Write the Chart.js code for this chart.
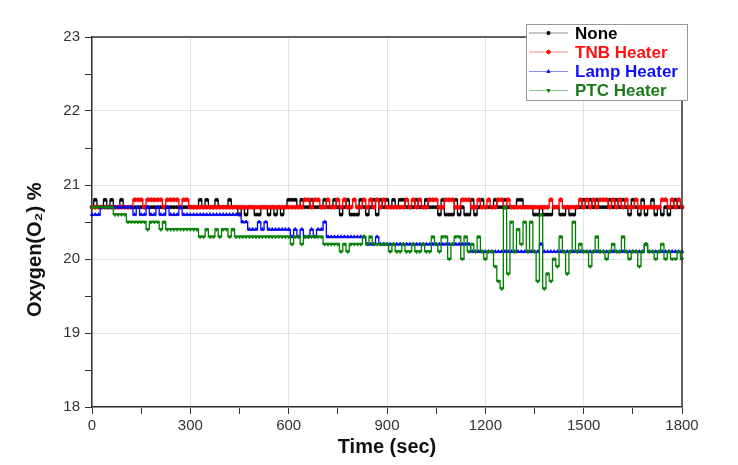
<!DOCTYPE html>
<html>
<head>
<meta charset="utf-8">
<script src="https://cdn.jsdelivr.net/npm/chart.js@4.4.0/dist/chart.umd.min.js"></script>
<style>
    html, body { margin: 0; padding: 0; background: #fff; }
</style>
</head>
<body>
<canvas id="o2Chart" width="738" height="465"></canvas>
<script>
// Time axis (sec), one sample every 10 s
const times = [
    0, 10, 20, 30, 40, 50, 60, 70, 80, 90,
    100, 110, 120, 130, 140, 150, 160, 170, 180, 190,
    200, 210, 220, 230, 240, 250, 260, 270, 280, 290,
    300, 310, 320, 330, 340, 350, 360, 370, 380, 390,
    400, 410, 420, 430, 440, 450, 460, 470, 480, 490,
    500, 510, 520, 530, 540, 550, 560, 570, 580, 590,
    600, 610, 620, 630, 640, 650, 660, 670, 680, 690,
    700, 710, 720, 730, 740, 750, 760, 770, 780, 790,
    800, 810, 820, 830, 840, 850, 860, 870, 880, 890,
    900, 910, 920, 930, 940, 950, 960, 970, 980, 990,
    1000, 1010, 1020, 1030, 1040, 1050, 1060, 1070, 1080, 1090,
    1100, 1110, 1120, 1130, 1140, 1150, 1160, 1170, 1180, 1190,
    1200, 1210, 1220, 1230, 1240, 1250, 1260, 1270, 1280, 1290,
    1300, 1310, 1320, 1330, 1340, 1350, 1360, 1370, 1380, 1390,
    1400, 1410, 1420, 1430, 1440, 1450, 1460, 1470, 1480, 1490,
    1500, 1510, 1520, 1530, 1540, 1550, 1560, 1570, 1580, 1590,
    1600, 1610, 1620, 1630, 1640, 1650, 1660, 1670, 1680, 1690,
    1700, 1710, 1720, 1730, 1740, 1750, 1760, 1770, 1780, 1790,
    1800
];

// Oxygen %
const noneValues = [
    20.7, 20.8, 20.7, 20.7, 20.8, 20.7, 20.8, 20.7, 20.7, 20.8,
    20.7, 20.7, 20.7, 20.7, 20.7, 20.7, 20.7, 20.7, 20.7, 20.7,
    20.7, 20.7, 20.7, 20.7, 20.7, 20.7, 20.7, 20.7, 20.7, 20.7,
    20.7, 20.7, 20.7, 20.8, 20.7, 20.8, 20.7, 20.7, 20.8, 20.7,
    20.7, 20.7, 20.8, 20.7, 20.7, 20.6, 20.7, 20.6, 20.7, 20.7,
    20.6, 20.6, 20.7, 20.7, 20.6, 20.7, 20.6, 20.7, 20.6, 20.7,
    20.8, 20.8, 20.8, 20.7, 20.8, 20.7, 20.7, 20.8, 20.7, 20.7,
    20.7, 20.8, 20.7, 20.7, 20.8, 20.7, 20.6, 20.7, 20.8, 20.6,
    20.6, 20.6, 20.8, 20.7, 20.6, 20.7, 20.8, 20.6, 20.8, 20.7,
    20.8, 20.7, 20.8, 20.7, 20.8, 20.8, 20.7, 20.7, 20.7, 20.8,
    20.7, 20.7, 20.8, 20.7, 20.7, 20.7, 20.6, 20.8, 20.6, 20.6,
    20.6, 20.8, 20.6, 20.7, 20.6, 20.6, 20.8, 20.6, 20.7, 20.8,
    20.7, 20.7, 20.7, 20.8, 20.7, 20.7, 20.8, 20.7, 20.7, 20.7,
    20.8, 20.8, 20.7, 20.7, 20.7, 20.6, 20.6, 20.7, 20.6, 20.6,
    20.6, 20.7, 20.7, 20.6, 20.6, 20.7, 20.6, 20.6, 20.7, 20.7,
    20.8, 20.7, 20.8, 20.7, 20.8, 20.7, 20.7, 20.7, 20.8, 20.7,
    20.8, 20.7, 20.8, 20.7, 20.6, 20.8, 20.7, 20.6, 20.8, 20.6,
    20.7, 20.8, 20.6, 20.7, 20.6, 20.7, 20.6, 20.7, 20.8, 20.7,
    20.7
];

const tnbValues = [
    20.7, 20.7, 20.7, 20.7, 20.7, 20.7, 20.7, 20.7, 20.7, 20.7,
    20.7, 20.7, 20.7, 20.8, 20.8, 20.8, 20.7, 20.8, 20.8, 20.8,
    20.8, 20.8, 20.7, 20.8, 20.8, 20.8, 20.8, 20.7, 20.8, 20.8,
    20.7, 20.7, 20.7, 20.7, 20.7, 20.7, 20.7, 20.7, 20.7, 20.7,
    20.7, 20.7, 20.7, 20.7, 20.7, 20.7, 20.7, 20.7, 20.7, 20.7,
    20.7, 20.7, 20.7, 20.7, 20.7, 20.7, 20.7, 20.7, 20.7, 20.7,
    20.7, 20.7, 20.7, 20.7, 20.7, 20.8, 20.8, 20.7, 20.8, 20.8,
    20.7, 20.7, 20.8, 20.7, 20.7, 20.8, 20.7, 20.8, 20.7, 20.7,
    20.8, 20.7, 20.7, 20.8, 20.7, 20.8, 20.7, 20.8, 20.7, 20.8,
    20.7, 20.7, 20.7, 20.7, 20.7, 20.7, 20.8, 20.7, 20.8, 20.7,
    20.8, 20.7, 20.7, 20.8, 20.8, 20.8, 20.7, 20.7, 20.8, 20.8,
    20.8, 20.7, 20.7, 20.8, 20.8, 20.8, 20.7, 20.7, 20.8, 20.7,
    20.7, 20.8, 20.7, 20.7, 20.8, 20.8, 20.7, 20.8, 20.7, 20.7,
    20.7, 20.7, 20.7, 20.7, 20.7, 20.7, 20.7, 20.7, 20.7, 20.7,
    20.8, 20.7, 20.7, 20.8, 20.7, 20.7, 20.7, 20.7, 20.7, 20.8,
    20.7, 20.8, 20.7, 20.8, 20.7, 20.8, 20.8, 20.8, 20.7, 20.8,
    20.7, 20.8, 20.7, 20.8, 20.7, 20.7, 20.8, 20.7, 20.7, 20.7,
    20.7, 20.7, 20.7, 20.7, 20.8, 20.8, 20.7, 20.8, 20.7, 20.8,
    20.7
];

const lampValues = [
    20.6, 20.6, 20.6, 20.7, 20.7, 20.7, 20.7, 20.7, 20.7, 20.7,
    20.7, 20.7, 20.7, 20.6, 20.7, 20.6, 20.6, 20.7, 20.6, 20.6,
    20.7, 20.6, 20.6, 20.7, 20.6, 20.6, 20.6, 20.7, 20.6, 20.6,
    20.6, 20.6, 20.6, 20.6, 20.6, 20.6, 20.6, 20.6, 20.6, 20.6,
    20.6, 20.6, 20.6, 20.6, 20.6, 20.6, 20.5, 20.5, 20.4, 20.4,
    20.4, 20.5, 20.4, 20.5, 20.4, 20.4, 20.4, 20.4, 20.4, 20.4,
    20.4, 20.3, 20.4, 20.3, 20.4, 20.3, 20.3, 20.4, 20.3, 20.4,
    20.4, 20.5, 20.3, 20.3, 20.3, 20.3, 20.3, 20.3, 20.3, 20.3,
    20.3, 20.3, 20.3, 20.3, 20.2, 20.2, 20.2, 20.3, 20.2, 20.2,
    20.2, 20.2, 20.2, 20.2, 20.2, 20.2, 20.2, 20.2, 20.2, 20.2,
    20.2, 20.2, 20.2, 20.2, 20.2, 20.2, 20.2, 20.2, 20.2, 20.2,
    20.2, 20.2, 20.2, 20.2, 20.2, 20.2, 20.1, 20.1, 20.1, 20.1,
    20.1, 20.1, 20.1, 20.1, 20.1, 20.1, 20.1, 20.1, 20.1, 20.1,
    20.1, 20.1, 20.1, 20.1, 20.1, 20.1, 20.1, 20.2, 20.1, 20.1,
    20.1, 20.1, 20.1, 20.1, 20.1, 20.1, 20.1, 20.1, 20.1, 20.1,
    20.1, 20.1, 20.1, 20.1, 20.1, 20.1, 20.1, 20.1, 20.1, 20.1,
    20.1, 20.1, 20.1, 20.1, 20.1, 20.1, 20.1, 20.1, 20.1, 20.2,
    20.1, 20.1, 20.1, 20.1, 20.1, 20.1, 20.1, 20.1, 20.1, 20.1,
    20.1
];

const ptcValues = [
    20.7, 20.7, 20.7, 20.7, 20.7, 20.7, 20.7, 20.6, 20.6, 20.6,
    20.6, 20.5, 20.5, 20.5, 20.5, 20.5, 20.5, 20.4, 20.5, 20.5,
    20.5, 20.4, 20.5, 20.4, 20.4, 20.4, 20.4, 20.4, 20.4, 20.4,
    20.4, 20.4, 20.4, 20.3, 20.3, 20.4, 20.3, 20.3, 20.4, 20.3,
    20.4, 20.4, 20.3, 20.4, 20.3, 20.3, 20.3, 20.3, 20.3, 20.3,
    20.3, 20.3, 20.3, 20.3, 20.3, 20.3, 20.3, 20.3, 20.3, 20.3,
    20.3, 20.2, 20.3, 20.3, 20.2, 20.3, 20.3, 20.3, 20.3, 20.3,
    20.3, 20.2, 20.2, 20.2, 20.2, 20.2, 20.1, 20.2, 20.1, 20.2,
    20.2, 20.2, 20.2, 20.3, 20.2, 20.3, 20.2, 20.2, 20.2, 20.2,
    20.2, 20.1, 20.2, 20.1, 20.1, 20.2, 20.1, 20.1, 20.2, 20.1,
    20.1, 20.2, 20.1, 20.1, 20.3, 20.2, 20.1, 20.3, 20.3, 20.0,
    20.2, 20.3, 20.3, 20.0, 20.3, 20.1, 20.2, 20.1, 20.3, 20.1,
    20.0, 20.1, 20.1, 19.9, 19.7, 19.6, 20.7, 19.8, 20.5, 20.1,
    20.4, 20.2, 20.5, 20.1, 20.5, 20.1, 19.7, 20.6, 19.6, 19.8,
    19.7, 20.0, 19.9, 20.3, 20.1, 19.8, 20.1, 20.5, 20.1, 20.2,
    20.1, 20.1, 19.9, 20.1, 20.3, 20.1, 20.1, 20.0, 20.1, 20.2,
    20.1, 20.1, 20.3, 20.1, 20.0, 20.1, 20.1, 19.9, 20.1, 20.2,
    20.1, 20.1, 20.0, 20.1, 20.2, 20.0, 20.1, 20.0, 20.0, 20.1,
    20.0
];

const seriesLabels = ['None', 'TNB Heater', 'Lamp Heater', 'PTC Heater'];
const seriesColors = ['#000000', '#ff0000', '#0000ff', '#008000'];
const legendTextColors = ['#000000', '#ff1010', '#1010ff', '#1a7a1a'];

Chart.defaults.font.family = "'Liberation Sans', Arial, sans-serif";
Chart.defaults.color = '#333';

// Turn a value list into {x, y} points on the time axis
function makeSet(idx, values, style, rotation, order) {
    return {
        label: seriesLabels[idx],
        data: values.map((v, i) => ({ x: times[i], y: v })),
        borderColor: seriesColors[idx],
        backgroundColor: seriesColors[idx],
        borderWidth: 1.3,
        stepped: 'middle',
        pointStyle: style,
        rotation: rotation,
        pointRadius: 2,
        pointHoverRadius: 2,
        pointBorderWidth: 0.8,
        clip: false,
        order: order
    };
}

// Box round the plot: top and right edge
const framePlugin = {
    id: 'frame',
    afterDatasetsDraw(chart) {
        const { ctx, chartArea: a } = chart;
        ctx.save();
        ctx.strokeStyle = '#333';
        ctx.lineWidth = 1.5;
        ctx.beginPath();
        ctx.moveTo(a.left, a.top);
        ctx.lineTo(a.right, a.top);
        ctx.lineTo(a.right, a.bottom);
        ctx.stroke();
        ctx.restore();
    }
};

// Legend box sitting over the top right corner
const legendPlugin = {
    id: 'legendBox',
    afterDraw(chart) {
        const ctx = chart.ctx;
        const bx = 526, by = 24, bw = 161, bh = 76;
        ctx.save();
        ctx.fillStyle = '#fff';
        ctx.fillRect(bx, by, bw, bh);
        ctx.strokeStyle = '#999';
        ctx.lineWidth = 1;
        ctx.strokeRect(bx + 0.5, by + 0.5, bw, bh);
        const rows = [33, 52, 71.5, 90.5];
        chart.data.datasets.forEach((ds, i) => {
            const y = rows[i];
            ctx.strokeStyle = ds.borderColor;
            ctx.globalAlpha = 0.45;
            ctx.lineWidth = 1;
            ctx.beginPath();
            ctx.moveTo(529, y);
            ctx.lineTo(568, y);
            ctx.stroke();
            ctx.globalAlpha = 1;
            ctx.fillStyle = ds.backgroundColor;
            Chart.helpers.drawPoint(ctx, {
                pointStyle: ds.pointStyle, radius: 1.8, rotation: ds.rotation, borderWidth: 0.8
            }, 548.5, y);
            ctx.fillStyle = legendTextColors[i];
            ctx.font = "bold 17px 'Liberation Sans', Arial, sans-serif";
            ctx.textBaseline = 'middle';
            ctx.textAlign = 'left';
            ctx.fillText(ds.label, 575, y + 1);
        });
        ctx.restore();
    }
};

const ctx = document.getElementById('o2Chart').getContext('2d');
const chart = new Chart(ctx, {
    type: 'line',
    data: {
        datasets: [
            makeSet(0, noneValues, 'rect', 0, 4),
            makeSet(1, tnbValues, 'circle', 0, 3),
            makeSet(2, lampValues, 'triangle', 0, 2),
            makeSet(3, ptcValues, 'triangle', 180, 1)
        ]
    },
    options: {
        responsive: false,
        devicePixelRatio: 1,
        animation: false,
        events: [],
        layout: { padding: { top: 37, right: 56, left: 0, bottom: 0 } },
        plugins: {
            legend: { display: false },
            tooltip: { enabled: false }
        },
        scales: {
            x: {
                type: 'linear',
                min: 0,
                max: 1800,
                afterFit(scale) { scale.height = 58; },
                border: { color: '#333', width: 1.5 },
                grid: {
                    color: c => (c.tick && c.tick.value % 300 === 0) ? '#e2e2e2' : 'rgba(0,0,0,0)',
                    tickColor: '#333',
                    tickLength: 7
                },
                ticks: {
                    stepSize: 150,
                    autoSkip: false,
                    maxRotation: 0,
                    padding: 3,
                    color: '#333',
                    font: { size: 15 },
                    callback: v => (v % 300 === 0 ? v : '')
                },
                title: {
                    display: true,
                    text: 'Time (sec)',
                    color: '#111',
                    font: { size: 20, weight: 'bold' },
                    padding: { top: 0, bottom: 6 }
                }
            },
            y: {
                min: 18,
                max: 23,
                afterFit(scale) { scale.width = 92; },
                border: { color: '#333', width: 1.5 },
                grid: {
                    color: c => (c.tick && Number.isInteger(c.tick.value)) ? '#e2e2e2' : 'rgba(0,0,0,0)',
                    tickColor: '#333',
                    tickLength: 7
                },
                ticks: {
                    stepSize: 0.5,
                    padding: 5,
                    color: '#333',
                    font: { size: 15 },
                    callback: v => (Number.isInteger(v) ? v : '')
                },
                title: {
                    display: true,
                    text: 'Oxygen(O\u2082) %          ',
                    color: '#111',
                    font: { size: 20, weight: 'bold' },
                    padding: { top: 23, bottom: 0 }
                }
            }
        }
    },
    plugins: [framePlugin, legendPlugin]
});
</script>
</body>
</html>
